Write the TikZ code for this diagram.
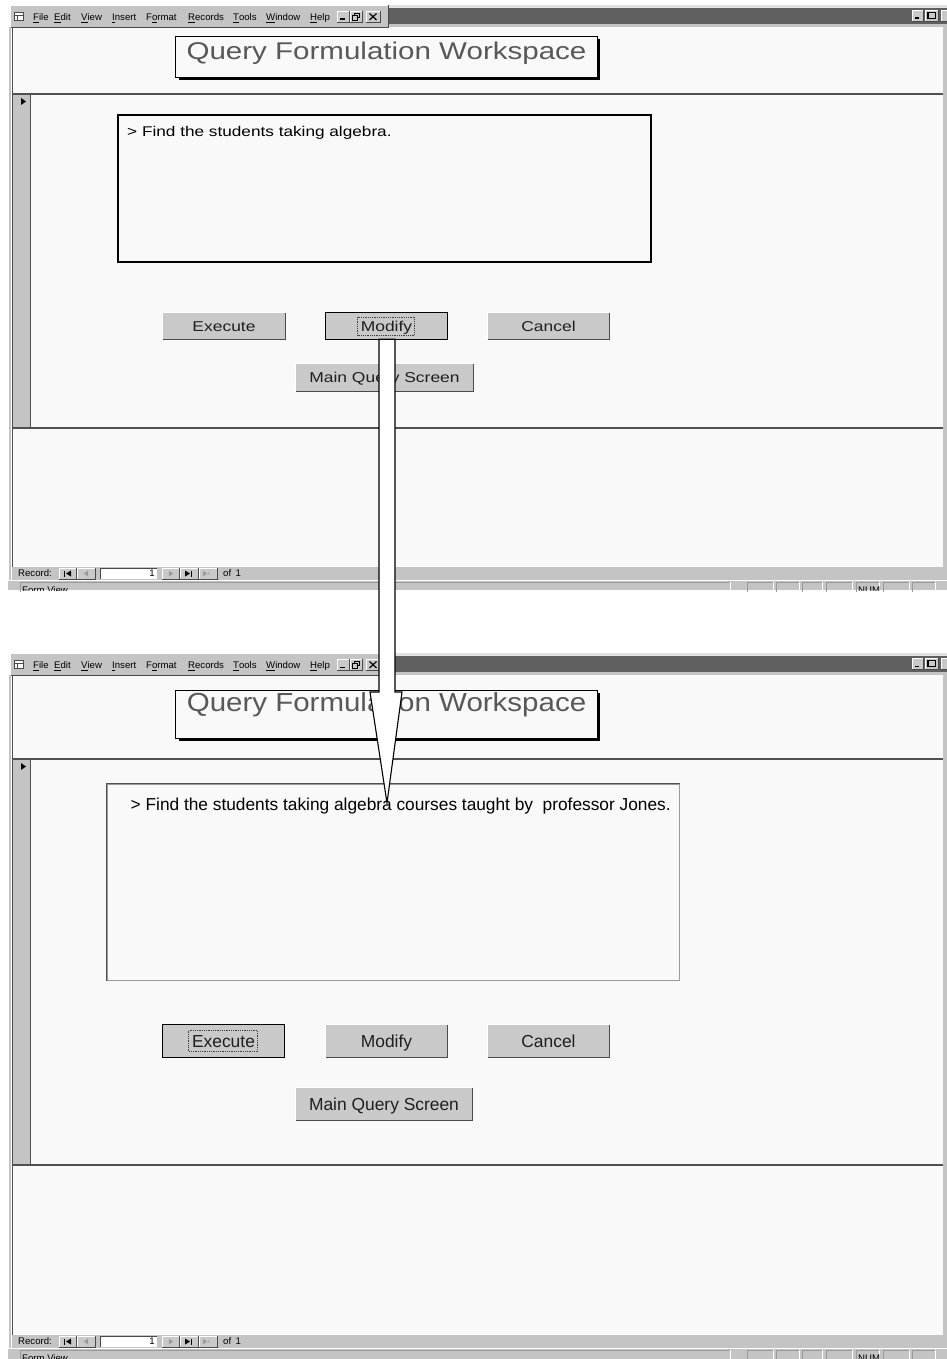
\documentclass[tikz,border=0pt]{standalone}
\usepackage{fontspec}
\setmainfont{Liberation Sans}
\newfontfamily\widesans[FakeStretch=1.22]{Liberation Sans}
\newfontfamily\titlesans[FakeStretch=1.13]{Liberation Sans}
\newfontfamily\titlesanswide[FakeStretch=1.22]{Liberation Sans}
\usetikzlibrary{calc}

\definecolor{formbg}{HTML}{F9F9F9}
\definecolor{framegray}{HTML}{C4C4C4}
\definecolor{titledark}{HTML}{5F5F5F}
\definecolor{btnface}{HTML}{C9C9C9}
\definecolor{bevdark}{HTML}{4A4A4A}
\definecolor{captiongray}{HTML}{585858}
\definecolor{rulegray}{HTML}{505050}
\definecolor{navgray}{HTML}{9A9A9A}

\newcommand\fsz[1]{\fontsize{#1}{#1}\selectfont}

% raised 3D edge around a named node
\newcommand\raisededge[1]{%
  \draw[white, line width=1.2] (#1.south west) |- (#1.north east);
  \draw[bevdark, line width=1.4] (#1.south west) -| (#1.north east);}

% push button: name, x, y, width, height, style, label
\newcommand\pushbutton[7]{%
  \node[pushbtn, #6, minimum width=#4, minimum height=#5] (#1) at (#2,#3) {#7};
  \raisededge{#1}}

% small raised box of the record navigator: x1, x2, y1, y2
\newcommand\navbox[4]{%
  \fill[btnface] (#1,#3) rectangle (#2,#4);
  \draw[white] (#1,#4) -- (#1,#3) -- (#2,#3);
  \draw[bevdark] (#1,#4) -- (#2,#4) -- (#2,#3);}

% sunken status-bar panel: x1, x2, y1, y2
\newcommand\statuspanel[4]{%
  \draw[navgray] (#1,#4) -- (#1,#3) -- (#2,#3);
  \draw[white] (#2,#3) -- (#2,#4);}

% the menu row of the application window: baseline y, suffix
\newcommand\menurow[2]{%
  \node[menu] (file#2) at (33,#1) {\underline{F}ile};
  \node[menu] (edit#2) at (54,#1) {\underline{E}dit};
  \node[menu] (view#2) at (81,#1) {\underline{V}iew};
  \node[menu] (insert#2) at (112,#1) {\underline{I}nsert};
  \node[menu] (format#2) at (146,#1) {F\underline{o}rmat};
  \node[menu] (records#2) at (188,#1) {\underline{R}ecords};
  \node[menu] (tools#2) at (233,#1) {\underline{T}ools};
  \node[menu] (window#2) at (266,#1) {\underline{W}indow};
  \node[menu] (help#2) at (310,#1) {\underline{H}elp};}

% application window: suffix, menu top, header rule, detail rule,
% record bar top, status bar bottom
\newcommand\appwindow[6]{%
  % form surface and right frame
  \fill[formbg] (12,#2+22) rectangle (943,#5);
  \fill[framegray] (943,#2+20) rectangle (947,#5+13);
  % caption strip right of the menu
  \fill[framegray!50] (388,#2) rectangle (947,#2+3);
  \fill[titledark] (388,#2+3) rectangle (947,#2+19);
  \fill[framegray] (388,#2+19) rectangle (947,#2+22);
  \navbox{912}{923}{#2+5}{#2+16}
  \navbox{925}{938}{#2+5}{#2+16}
  \navbox{941}{952}{#2+5}{#2+16}
  \fill[black] (914.5,#2+12.5) rectangle (919,#2+14);
  \draw[black, line width=1.3] (928,#2+7.5) rectangle (935.5,#2+13.5);
  % menu band
  \fill[framegray] (10,#2) rectangle (388,#2+22);
  \draw[white] (10,#2+22) -- (10,#2) -- (388,#2);
  \draw[bevdark] (10,#2+22) -- (388,#2+22) -- (388,#2);
  \draw[bevdark, fill=white] (14,#2+7) rectangle (23,#2+15);
  \draw[bevdark] (14,#2+10) -- (23,#2+10) (17,#2+10) -- (17,#2+15);
  \menurow{#2+15.5}{#1}
  \navbox{337}{349}{#2+6}{#2+17}
  \navbox{350}{362}{#2+6}{#2+17}
  \navbox{366}{380}{#2+6}{#2+17}
  \fill[black] (340,#2+13.5) rectangle (345,#2+15);
  \draw[black] (354,#2+8) rectangle (359.5,#2+12.5);
  \draw[black, fill=btnface] (352,#2+10.5) rectangle (357.5,#2+15);
  \draw[black, line width=1.2] (369.5,#2+8.5) -- (376.5,#2+15) (369.5,#2+15) -- (376.5,#2+8.5);
  % left frame
  \draw[framegray, line width=2] (10,#2+22) -- (10,#5+13);
  \draw[rulegray, line width=1.3] (12.5,#2+22) -- (12.5,#5);
  % section rules and record selector
  \fill[framegray] (13,#3) rectangle (30,#4);
  \draw[rulegray] (30.5,#3) -- (30.5,#4);
  \fill[black] (21,#3+4) -- (26,#3+7.5) -- (21,#3+11) -- cycle;
  \draw[rulegray, line width=1.3] (12,#3) -- (943,#3) (12,#4) -- (943,#4);
  % record navigator
  \fill[framegray] (12,#5) rectangle (947,#5+13);
  \node[navtext] (rec#1) at (18,#5+6.5) {Record:};
  \navbox{59}{76}{#5+1}{#5+12}
  \navbox{77}{95}{#5+1}{#5+12}
  \fill[white] (100,#5+1) rectangle (157,#5+12);
  \draw[bevdark] (100,#5+12) -- (100,#5+1) -- (157,#5+1);
  \node[navtext, anchor=east] (recno#1) at (155,#5+6.5) {1};
  \navbox{162}{179}{#5+1}{#5+12}
  \navbox{180}{198}{#5+1}{#5+12}
  \navbox{199}{217}{#5+1}{#5+12}
  \fill[black] (64,#5+3.5) rectangle (65.3,#5+9.5);
  \fill[black] (71,#5+3.5) -- (66,#5+6.5) -- (71,#5+9.5) -- cycle;
  \fill[navgray] (88,#5+3.5) -- (84,#5+6.5) -- (88,#5+9.5) -- cycle;
  \fill[navgray] (169,#5+3.5) -- (173,#5+6.5) -- (169,#5+9.5) -- cycle;
  \fill[black] (185,#5+3.5) -- (190,#5+6.5) -- (185,#5+9.5) -- cycle;
  \fill[black] (190.5,#5+3.5) rectangle (191.8,#5+9.5);
  \fill[navgray] (203,#5+3.5) -- (207,#5+6.5) -- (203,#5+9.5) -- cycle;
  \node[navtext, text=navgray, font=\fsz{7}] (recnew#1) at (207.5,#5+7) {*};
  \node[navtext] (recof#1) at (223,#5+6.5) {of\hspace{4.5pt}1};
  % status bar
  \fill[framegray] (8,#5+13) rectangle (947,#6);
  \draw[white] (8,#5+13.6) -- (947,#5+13.6);
  \statuspanel{20}{730}{#5+15}{#6+2}
  \statuspanel{747}{773}{#5+15}{#6+2}
  \statuspanel{776}{799}{#5+15}{#6+2}
  \statuspanel{802}{822}{#5+15}{#6+2}
  \statuspanel{826}{852}{#5+15}{#6+2}
  \statuspanel{856}{879}{#5+15}{#6+2}
  \statuspanel{883}{909}{#5+15}{#6+2}
  \statuspanel{912}{935}{#5+15}{#6+2}
  \begin{scope}
    \clip (20,#5+14) rectangle (947,#6);
    \node[navtext] (formview#1) at (22,#5+23) {Form View};
    \node[navtext] (num#1) at (858,#5+23) {NUM};
  \end{scope}}

\begin{document}
\begin{tikzpicture}[x=1pt, y=-1pt,
  menu/.style={anchor=base west, inner sep=0, font=\fsz{9.6}, text=black},
  navtext/.style={anchor=west, inner sep=0, font=\fsz{9.6}, text=black,
    text height=6.9pt, text depth=0pt},
  pushbtn/.style={fill=btnface, inner sep=0, text=black!88},
  btnone/.style={font=\widesans\fsz{14.3}, text height=10.2pt, text depth=0pt},
  btntwo/.style={font=\fsz{17.4}, text height=12.5pt, text depth=0pt},
  titlebox/.style={draw=black, line width=0.9, fill=formbg, inner sep=0},
  captionone/.style={anchor=base, inner sep=0, text=captiongray,
    font=\titlesanswide\fsz{24.2}},
  captiontwo/.style={anchor=base, inner sep=0, text=captiongray,
    font=\titlesans\fsz{26.1}},
  queryone/.style={anchor=west, inner sep=0, text=black,
    font=\widesans\fsz{14.1}, text height=10.1pt, text depth=0pt},
  querytwo/.style={anchor=west, inner sep=0, text=black,
    font=\fsz{17.3}, text height=12.4pt, text depth=0pt},
  focusring/.style={draw=black!75, densely dotted, line width=0.8},
  blockarrow/.style={draw=black, fill=white, line width=1.1, line join=miter},
]
\useasboundingbox (0,0) rectangle (947,1359);
\fill[white] (0,0) rectangle (947,1359);

% ---------- first state of the form ----------
\appwindow{1}{5}{94}{428}{567}{590}

\fill[black] (597,39.5) rectangle (600,80);
\fill[black] (178.5,77) rectangle (600,80);
\node[titlebox, minimum width=421.5, minimum height=40.5] (title1) at (386.25,56.75) {};
\node[captionone] (caption1) at (386.5,60) {Query Formulation Workspace};

\node[draw=black, line width=2, fill=formbg, minimum width=533, minimum height=147, inner sep=0]
  (qry1) at (384.5,188.5) {};
\node[queryone] (qtext1) at ($(qry1.north west)+(10,17)$) {> Find the students taking algebra.};

\pushbutton{exe1}{224}{326}{122}{26}{btnone}{Execute}
\pushbutton{mod1}{386.5}{326}{121}{26}{btnone}{Modify}
\pushbutton{can1}{548.5}{326}{121}{26}{btnone}{Cancel}
\pushbutton{mqs1}{384.5}{377.5}{177}{27}{btnone}{Main Query Screen}
\draw[black, line width=1] (mod1.north west) rectangle (mod1.south east);
\draw[focusring] ($(mod1.center)+(-29,-9)$) rectangle ($(mod1.center)+(28,9)$);

% ---------- second state of the form ----------
\appwindow{2}{653}{759}{1165}{1335}{1359}

\fill[black] (597,693) rectangle (600,741);
\fill[black] (178.5,738) rectangle (600,741);
\node[titlebox, minimum width=421.5, minimum height=48] (title2) at (386.25,714) {};
\node[captiontwo] (caption2) at (386.5,711.7) {Query Formulation Workspace};

\node[draw=navgray, line width=1, fill=formbg, minimum width=572, minimum height=196, inner sep=0]
  (qry2) at (393,882) {};
\draw[rulegray, line width=1.2] (qry2.south west) |- (qry2.north east);
\node[querytwo] (qtext2) at ($(qry2.north west)+(24,21)$)
  {> Find the students taking algebra courses taught by\ \ professor Jones.};

\pushbutton{exe2}{223.5}{1041}{121}{32}{btntwo}{Execute}
\pushbutton{mod2}{386.5}{1041}{121}{32}{btntwo}{Modify}
\pushbutton{can2}{548.5}{1041}{121}{32}{btntwo}{Cancel}
\pushbutton{mqs2}{384}{1104}{176}{32}{btntwo}{Main Query Screen}
\draw[black, line width=1] (exe2.north west) rectangle (exe2.south east);
\draw[focusring] ($(exe2.center)+(-35,-10.5)$) rectangle ($(exe2.center)+(34,10.5)$);

% ---------- block arrow from Modify down into the revised query ----------
\coordinate (tip) at (387,803);
\coordinate (shoulder) at (0,692);
\draw[blockarrow] let \p1=(mod1.south), \p2=(tip), \p3=(shoulder) in
  (\x1-7.5pt,\y1) -- (\x1-7.5pt,\y3) -- (\x1-16.5pt,\y3) -- (\x2,\y2)
  -- (\x1+15.5pt,\y3) -- (\x1+8.5pt,\y3) -- (\x1+8.5pt,\y1) -- cycle;
\end{tikzpicture}
\end{document}
